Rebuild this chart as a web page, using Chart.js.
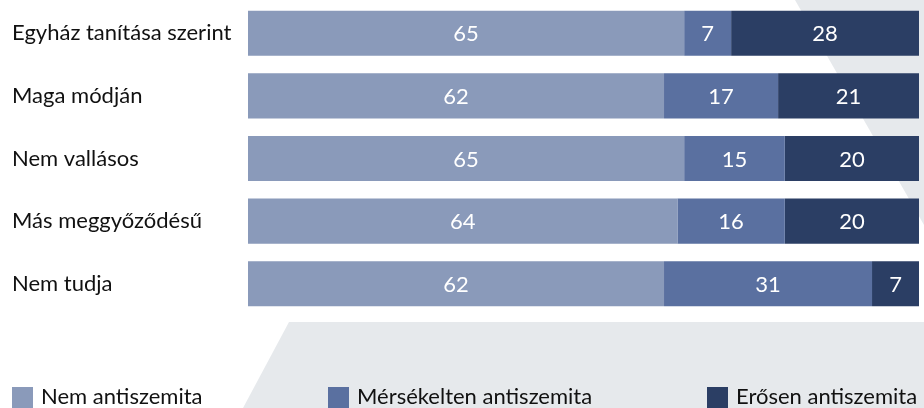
<!DOCTYPE html>
<html lang="hu">
<head>
    <meta charset="UTF-8">
    <title>Antiszemitizmus vallásosság szerint</title>
    <script src="https://cdn.jsdelivr.net/npm/chart.js"></script>
    <style>
        html, body { margin: 0; padding: 0; background: #fff; }
        .chart-box { position: relative; width: 924px; height: 408px; }
    </style>
</head>
<body>
    <div class="chart-box">
        <canvas id="myChart"></canvas>
    </div>

    <script>
    // adatok
    const categories = ['Egyház tanítása szerint', 'Maga módján', 'Nem vallásos', 'Más meggyőződésű', 'Nem tudja'];
    const seriesNames = ['Nem antiszemita', 'Mérsékelten antiszemita', 'Erősen antiszemita'];
    const nemAntiszemita = [65, 62, 65, 64, 62];
    const merseklten = [7, 17, 15, 16, 31];
    const erosen = [28, 21, 20, 20, 7];
    const colors = ['#8a9aba', '#5a70a0', '#2b3e64'];

    const FONT = 'Lato, "Open Sans", sans-serif';

    // szürke háttérforma
    const bgShape = {
        id: 'bgShape',
        beforeDraw(chart) {
            const ctx = chart.ctx;
            ctx.save();
            ctx.fillStyle = '#e6e9ec';
            ctx.beginPath();
            ctx.moveTo(795, 0);
            ctx.lineTo(924, 0);
            ctx.lineTo(924, 225);
            ctx.closePath();
            ctx.fill();
            ctx.beginPath();
            ctx.moveTo(289, 322);
            ctx.lineTo(924, 322);
            ctx.lineTo(924, 408);
            ctx.lineTo(243, 408);
            ctx.closePath();
            ctx.fill();
            ctx.restore();
        }
    };

    // értékek a szegmensek közepén
    const barValues = {
        id: 'barValues',
        afterDatasetsDraw(chart) {
            const ctx = chart.ctx;
            ctx.save();
            ctx.fillStyle = '#ffffff';
            ctx.font = '22px ' + FONT;
            ctx.textAlign = 'center';
            ctx.textBaseline = 'middle';
            chart.data.datasets.forEach((ds, i) => {
                chart.getDatasetMeta(i).data.forEach((bar, j) => {
                    const x = (bar.x + bar.base) / 2;
                    ctx.fillText(ds.data[j], x, bar.y + 1);
                });
            });
            ctx.restore();
        }
    };

    // jelmagyarázat alul, széthúzva
    const spreadLegend = {
        id: 'spreadLegend',
        afterDraw(chart) {
            const ctx = chart.ctx;
            const xs = [12, 328, 707];
            ctx.save();
            ctx.font = '22px ' + FONT;
            ctx.textBaseline = 'alphabetic';
            ctx.textAlign = 'left';
            chart.data.datasets.forEach((ds, i) => {
                ctx.fillStyle = ds.backgroundColor;
                ctx.fillRect(xs[i], 387, 21, 21);
                ctx.fillStyle = '#111';
                ctx.fillText(ds.label, xs[i] + 29, 404);
            });
            ctx.restore();
        }
    };

    new Chart(document.getElementById('myChart'), {
        type: 'bar',
        data: {
            labels: categories,
            datasets: [
                { label: seriesNames[0], data: nemAntiszemita, backgroundColor: colors[0] },
                { label: seriesNames[1], data: merseklten, backgroundColor: colors[1] },
                { label: seriesNames[2], data: erosen, backgroundColor: colors[2] }
            ]
        },
        options: {
            indexAxis: 'y',
            responsive: true,
            maintainAspectRatio: false,
            animation: false,
            layout: { padding: { left: 12, right: 5, top: 2, bottom: 93 } },
            datasets: { bar: { barPercentage: 0.72, categoryPercentage: 1 } },
            scales: {
                x: {
                    stacked: true,
                    min: 0,
                    max: 100,
                    display: false
                },
                y: {
                    stacked: true,
                    grid: { display: false },
                    border: { display: false },
                    ticks: {
                        crossAlign: 'far',
                        color: '#111',
                        font: { family: FONT, size: 22 }
                    },
                    afterFit(scale) {
                        scale.width = 236;
                        scale.paddingTop = 0;
                        scale.paddingBottom = 0;
                    }
                }
            },
            plugins: {
                legend: { display: false },
                tooltip: { enabled: false }
            }
        },
        plugins: [bgShape, barValues, spreadLegend]
    });
    </script>
</body>
</html>
